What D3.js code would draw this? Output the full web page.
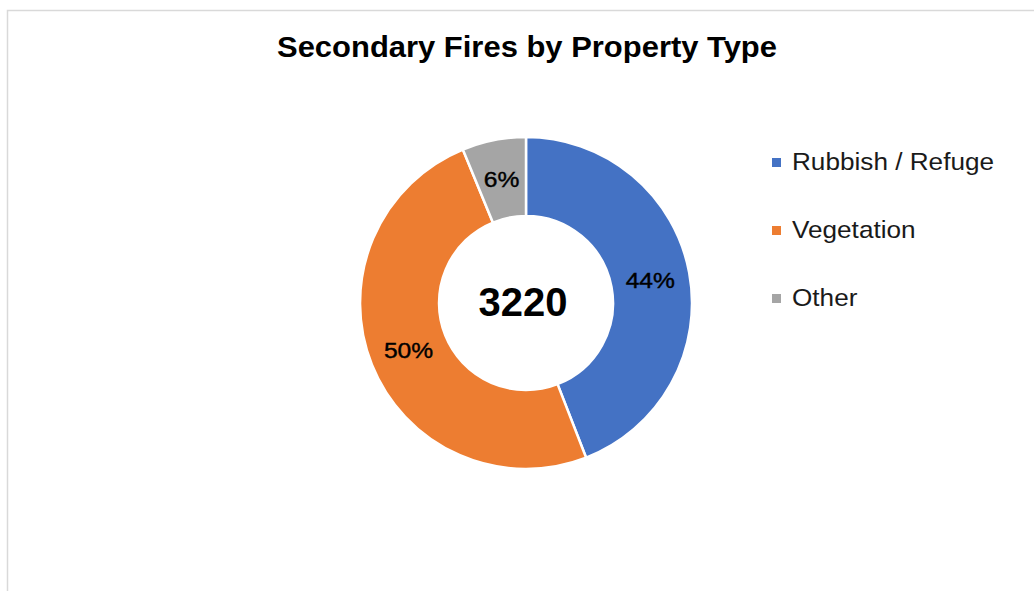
<!DOCTYPE html>
<html>
<head>
<meta charset="utf-8">
<script src="https://cdn.jsdelivr.net/npm/d3@7"></script>
<style>
  body { margin: 0; background: #fff; }
  svg { display: block; font-family: "Liberation Sans", Arial, sans-serif; }
</style>
</head>
<body>
<div id="chart"></div>
<script>
// chart data
var categories = ["Rubbish / Refuge", "Vegetation", "Other"];
var counts = [1420, 1600, 200];
var colours = ["#4472C4", "#ED7D31", "#A5A5A5"];
var total = 3220;

var svgWidth = 1034, svgHeight = 591;

var svg = d3.select("#chart")
  .append("svg")
  .attr("width", svgWidth)
  .attr("height", svgHeight);

// chart area border
svg.append("rect")
  .attr("x", 7.5)
  .attr("y", 10.5)
  .attr("width", svgWidth)
  .attr("height", svgHeight)
  .attr("fill", "none")
  .attr("stroke", "#d9d9d9")
  .attr("stroke-width", 1.5);

// title
svg.append("text")
  .attr("x", 527)
  .attr("y", 57)
  .attr("text-anchor", "middle")
  .attr("font-size", "30px")
  .attr("font-weight", "bold")
  .attr("fill", "#000")
  .attr("textLength", 500)
  .attr("lengthAdjust", "spacingAndGlyphs")
  .text("Secondary Fires by Property Type");

var data = categories.map(function (c, i) {
  return { name: c, value: counts[i], colour: colours[i] };
});

var cx = 526, cy = 303;
var outerR = 166, innerR = 87;

var pie = d3.pie()
  .value(d => d.value)
  .sort(null);

var arc = d3.arc()
  .innerRadius(innerR)
  .outerRadius(outerR);

var chartGroup = svg.append("g")
  .attr("transform", `translate(${cx}, ${cy})`);

var arcs = pie(data);

chartGroup.selectAll("path")
  .data(arcs)
  .enter()
  .append("path")
  .attr("d", arc)
  .attr("fill", d => d.data.colour)
  .attr("stroke", "#fff")
  .attr("stroke-width", 2.5);

// percentage labels
var sum = d3.sum(counts);
chartGroup.selectAll("text.pct")
  .data(arcs)
  .enter()
  .append("text")
  .attr("class", "pct")
  .attr("x", d => arc.centroid(d)[0])
  .attr("y", d => arc.centroid(d)[1])
  .attr("dy", "0.36em")
  .attr("text-anchor", "middle")
  .attr("font-size", "22px")
  .attr("fill", "#000")
  .style("stroke", "#000")
  .style("stroke-width", 0.4)
  .attr("transform", d => {
    var c = arc.centroid(d);
    return `translate(${c[0]},${c[1]}) scale(1.12,1) translate(${-c[0]},${-c[1]})`;
  })
  .text(d => Math.round(d.data.value / sum * 100) + "%");

// total in the hole
chartGroup.append("text")
  .attr("x", -3)
  .attr("y", 13)
  .attr("text-anchor", "middle")
  .attr("font-size", "40px")
  .attr("font-weight", "bold")
  .attr("fill", "#000")
  .text(total);

// legend
var legend = svg.append("g")
  .attr("transform", "translate(772, 0)");

var rows = legend.selectAll("g")
  .data(data)
  .enter()
  .append("g")
  .attr("transform", (d, i) => `translate(0, ${170 + i * 68})`);

rows.append("rect")
  .attr("x", 0)
  .attr("y", -12)
  .attr("width", 9)
  .attr("height", 9)
  .attr("fill", d => d.colour);

rows.append("text")
  .attr("x", 20)
  .attr("y", 0)
  .attr("font-size", "24px")
  .attr("fill", "#1a1a1a")
  .attr("transform", "translate(20,0) scale(1.09,1) translate(-20,0)")
  .text(d => d.name);
</script>
</body>
</html>
